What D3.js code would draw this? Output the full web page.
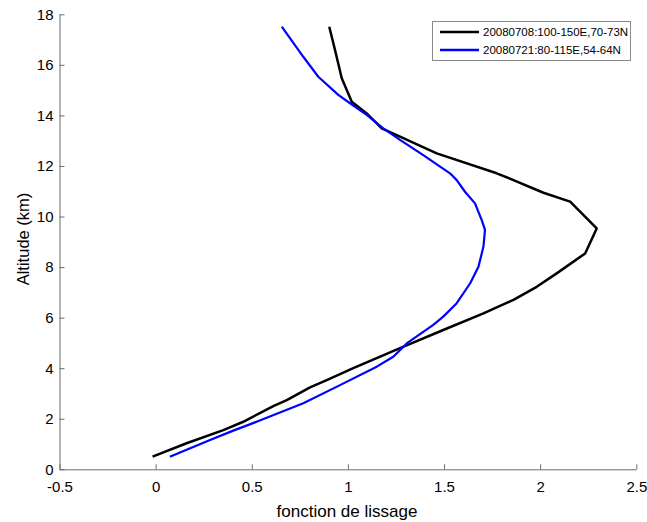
<!DOCTYPE html>
<html><head><meta charset="utf-8">
<script src="https://cdn.jsdelivr.net/npm/d3@7"></script>
<style>body{margin:0;background:#fff}svg{display:block}text{font-family:"Liberation Sans",Arial,sans-serif}</style>
</head><body>
<svg id="c" width="647" height="522"></svg>
<script>
const seriesNames = ["20080708:100-150E,70-73N", "20080721:80-115E,54-64N"];
const seriesColors = ["#000000", "#0000ff"];
const blackAlt = [0.5,1.03,1.55,1.88,2.5,2.74,3.24,3.53,4.0,4.79,5.51,6.17,6.70,7.22,7.75,8.54,9.53,10.59,10.94,11.44,11.71,12.5,13.16,13.49,14.08,14.54,15.47,16.59,17.51];
const blackVal = [-0.016,0.161,0.352,0.456,0.612,0.682,0.803,0.89,1.028,1.271,1.496,1.705,1.861,1.982,2.086,2.234,2.294,2.156,2.017,1.861,1.774,1.462,1.271,1.176,1.098,1.020,0.968,0.933,0.903];
const blueAlt = [0.5,1.16,1.53,1.88,2.61,3.33,4.06,4.45,4.98,5.71,6.04,6.57,7.36,8.01,8.81,9.47,9.86,10.52,10.98,11.44,11.71,12.43,13.03,13.49,14.02,14.48,14.81,15.53,16.32,17.51];
const blueVal = [0.074,0.283,0.404,0.525,0.768,0.959,1.15,1.236,1.306,1.444,1.496,1.566,1.636,1.679,1.705,1.713,1.696,1.661,1.609,1.566,1.531,1.392,1.271,1.184,1.098,1.011,0.950,0.846,0.768,0.656];
const xTicks = [-0.5,0,0.5,1,1.5,2,2.5];
const yTicks = [0,2,4,6,8,10,12,14,16,18];
const xLabel = "fonction de lissage";
const yLabel = "Altitude (km)";

const svg = d3.select("#c");
const L = 59.5, R = 636.3, T = 14.3, B = 469.3;
const x = d3.scaleLinear().domain([-0.5, 2.5]).range([L, R]);
const y = d3.scaleLinear().domain([0, 18]).range([B, T]);

const axCol = "#6b6b6b";
const xa = svg.append("g").attr("transform", `translate(0,${B})`)
  .call(d3.axisBottom(x).tickValues(xTicks).tickFormat(d => String(d)).tickSizeInner(-5).tickSizeOuter(0).tickPadding(12));
const ya = svg.append("g").attr("transform", `translate(${L},0)`)
  .call(d3.axisLeft(y).tickValues(yTicks).tickFormat(d => String(d)).tickSizeInner(-5).tickSizeOuter(0).tickPadding(6));
[xa, ya].forEach(g => {
  g.select(".domain").attr("stroke", axCol).attr("stroke-width", 1);
  g.selectAll(".tick line").attr("stroke", axCol);
  g.selectAll(".tick text").attr("fill", "#000").style("font-size", "15px").style("font-family", "'Liberation Sans',Arial,sans-serif");
});

const line = d3.line().x(d => x(d[0])).y(d => y(d[1]));
const s1 = blackVal.map((v, i) => [v, blackAlt[i]]);
const s2 = blueVal.map((v, i) => [v, blueAlt[i]]);
svg.append("path").datum(s1).attr("d", line).attr("fill", "none").attr("stroke", seriesColors[0]).attr("stroke-width", 2.5).attr("stroke-linejoin", "round");
svg.append("path").datum(s2).attr("d", line).attr("fill", "none").attr("stroke", seriesColors[1]).attr("stroke-width", 2.2).attr("stroke-linejoin", "round");

svg.append("text").attr("x", 347).attr("y", 517).attr("text-anchor", "middle").style("font-size", "17px").text(xLabel);
svg.append("text").attr("transform", "translate(29,239) rotate(-90)").attr("text-anchor", "middle").style("font-size", "16.5px").text(yLabel);

// legend
const lg = svg.append("g");
lg.append("rect").attr("x", 432.5).attr("y", 21.5).attr("width", 198).attr("height", 39).attr("fill", "#fff").attr("stroke", "#8a8a8a");
seriesNames.forEach((n, i) => {
  const yy = 32 + i * 18;
  lg.append("line").attr("x1", 440).attr("x2", 479).attr("y1", yy).attr("y2", yy).attr("stroke", seriesColors[i]).attr("stroke-width", 2.5);
  lg.append("text").attr("x", 483).attr("y", yy + 4).style("font-size", "11.5px").text(n);
});
</script>
</body></html>
